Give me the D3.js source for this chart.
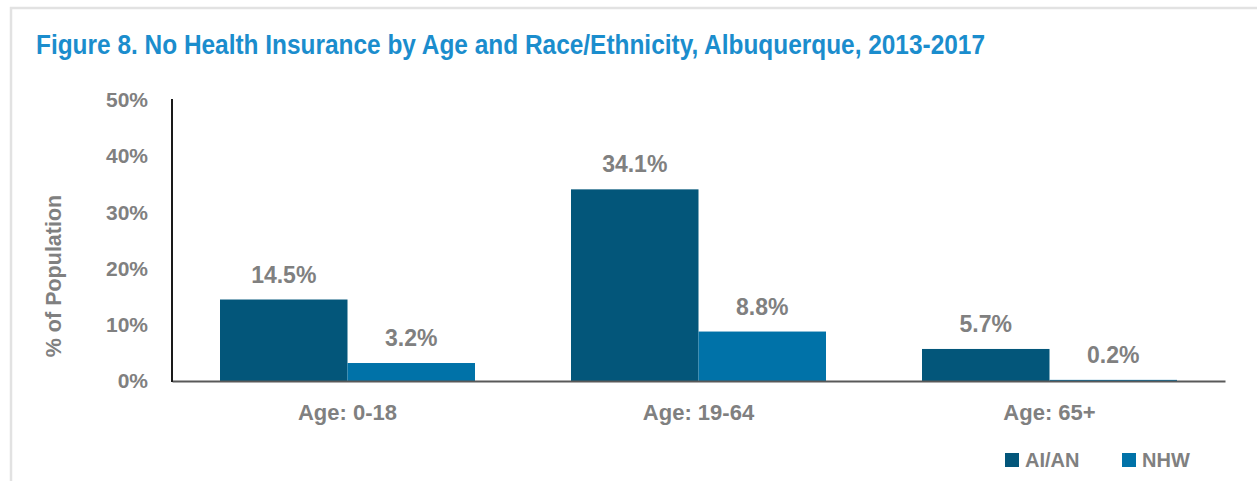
<!DOCTYPE html>
<html>
<head>
<meta charset="utf-8">
<script src="https://cdn.jsdelivr.net/npm/d3@7"></script>
<style>
  body { margin: 0; background: #fff; }
  text { font-family: "Liberation Sans", Arial, sans-serif; font-weight: bold; }
</style>
</head>
<body>
<div class="chart"></div>
<script>
// data
const ageGroups = ['Age: 0-18', 'Age: 19-64', 'Age: 65+'];
const seriesNames = ['AI/AN', 'NHW'];
const aianValues = [14.5, 34.1, 5.7];
const nhwValues = [3.2, 8.8, 0.2];
const yTicks = [0, 10, 20, 30, 40, 50];

const colors = {'AI/AN': '#03567a', 'NHW': '#0072a8'};
const grey = '#808080';

const W = 1257, H = 481;
const margin = {top: 100, right: 32, bottom: 100, left: 172},
width = W - margin.left - margin.right,
height = 381 - margin.top;

const root = d3.select('.chart')
    .append('svg')
    .attr('width', W)
    .attr('height', H);

// frame
root.append('path')
    .attr('d', `M11,${H} V8 H${W}`)
    .attr('fill', 'none')
    .attr('stroke', '#e2e2e2')
    .attr('stroke-width', 2.5);

// title is a condensed face in the original, squeeze it to the same width
root.append('text')
    .attr('x', 36)
    .attr('y', 54)
    .attr('fill', '#1b8dcd')
    .attr('font-size', 27)
    .attr('textLength', 949)
    .attr('lengthAdjust', 'spacingAndGlyphs')
    .text('Figure 8. No Health Insurance by Age and Race/Ethnicity, Albuquerque, 2013-2017');

const svg = root.append('g')
    .attr('transform', 'translate(' + margin.left + ',' + margin.top + ')');

const data = ageGroups.map((g, i) => ({group: g, values: [
    {key: 'AI/AN', value: aianValues[i]},
    {key: 'NHW', value: nhwValues[i]}
]}));

const x0 = d3.scaleBand()
    .domain(ageGroups)
    .range([0, width])
    .paddingInner(0)
    .paddingOuter(0);

const x1 = d3.scaleBand()
    .domain(seriesNames)
    .range([48, x0.bandwidth() - 48]);

const yScale = d3.scaleLinear()
    .domain([0, 50])
    .range([height, 0]);

// y axis labels
svg.append('g')
    .call(d3.axisLeft(yScale).tickValues(yTicks).tickFormat(d => d + '%').tickSize(0).tickPadding(24))
    .call(g => g.select('.domain').remove())
    .call(g => g.selectAll('text')
        .attr('fill', grey)
        .attr('font-size', 21)
        .style('font-family', '"Liberation Sans", Arial, sans-serif'));

// bars
const groups = svg.append('g')
    .selectAll('g')
    .data(data)
    .enter()
    .append('g')
    .attr('transform', d => `translate(${x0(d.group)},0)`);

groups.selectAll('rect')
    .data(d => d.values)
    .enter()
    .append('rect')
    .attr('x', d => x1(d.key))
    .attr('y', d => yScale(d.value))
    .attr('width', x1.bandwidth())
    .attr('height', d => height - yScale(d.value))
    .attr('fill', d => colors[d.key]);

groups.selectAll('.val')
    .data(d => d.values)
    .enter()
    .append('text')
    .attr('class', 'val')
    .attr('x', d => x1(d.key) + x1.bandwidth() / 2)
    .attr('y', d => yScale(d.value) - 17)
    .attr('text-anchor', 'middle')
    .attr('fill', grey)
    .attr('font-size', 23)
    .text(d => d.value.toFixed(1) + '%');

// x axis
svg.append('g')
    .attr('transform', `translate(0,${height})`)
    .call(d3.axisBottom(x0).tickSize(0).tickPadding(0))
    .call(g => g.select('.domain').attr('stroke', '#595959').attr('stroke-width', 2))
    .call(g => g.selectAll('text')
        .attr('y', 39)
        .attr('dy', null)
        .attr('fill', grey)
        .attr('font-size', 22)
        .style('font-family', '"Liberation Sans", Arial, sans-serif'));

// y axis line
svg.append('line')
    .attr('x1', 0).attr('x2', 0)
    .attr('y1', -1).attr('y2', height + 1)
    .attr('stroke', '#1a1a1a')
    .attr('stroke-width', 2);

// y label
root.append('text')
    .attr('transform', 'translate(61,276) rotate(-90)')
    .attr('text-anchor', 'middle')
    .attr('fill', grey)
    .attr('font-size', 21.5)
    .text('% of Population');

// legend
const legend = root.append('g')
    .selectAll('g')
    .data(seriesNames)
    .enter()
    .append('g')
    .attr('transform', (d, i) => `translate(${1005 + i * 117},453)`);

legend.append('rect')
    .attr('width', 14)
    .attr('height', 14)
    .attr('fill', d => colors[d]);

legend.append('text')
    .attr('x', 20)
    .attr('y', 14)
    .attr('fill', grey)
    .attr('font-size', 20)
    .text(d => d);
</script>
</body>
</html>
